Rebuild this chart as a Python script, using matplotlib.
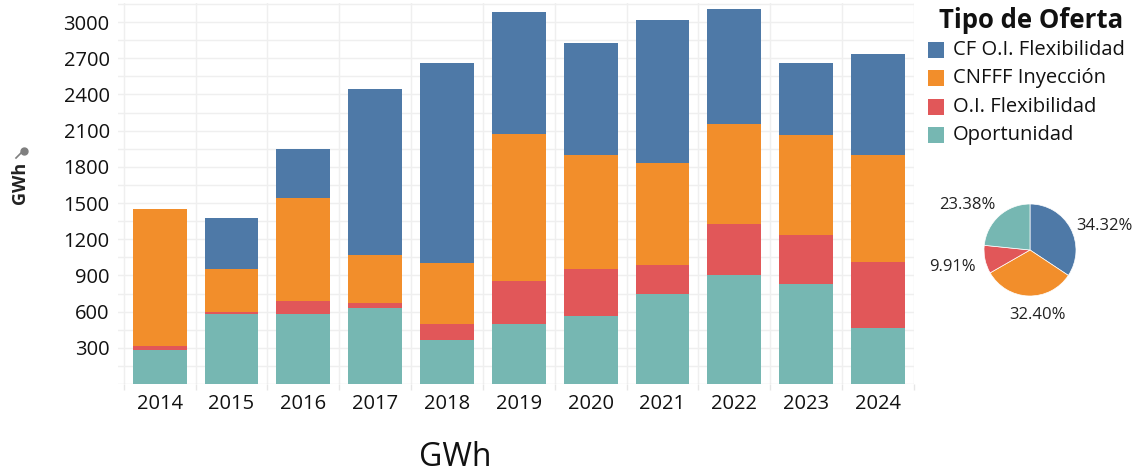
import matplotlib
matplotlib.use("Agg")
import matplotlib.pyplot as plt
from matplotlib.patches import Rectangle
import numpy as np

plt.rcParams['font.family'] = ['Open Sans', 'DejaVu Sans']

years = ["2014", "2015", "2016", "2017", "2018", "2019", "2020", "2021", "2022", "2023", "2024"]

# GWh per offer type, stacked bottom to top
oportunidad = [278, 582, 582, 626, 364, 497, 560, 750, 903, 825, 466]
oi_flexibilidad = [39, 17, 102, 47, 130, 359, 397, 238, 425, 409, 547]
cnfff_inyeccion = [1132, 358, 859, 398, 511, 1217, 945, 847, 828, 828, 889]
cf_oi_flexibilidad = [0, 415, 406, 1377, 1654, 1008, 925, 1180, 952, 597, 831]

legend_labels = ["CF O.I. Flexibilidad", "CNFFF Inyección", "O.I. Flexibilidad", "Oportunidad"]
pie_shares = [34.32, 32.40, 9.91, 23.38]

colors = {
    "CF O.I. Flexibilidad": "#4e79a7",
    "CNFFF Inyección": "#f28e2b",
    "O.I. Flexibilidad": "#e15759",
    "Oportunidad": "#76b7b2",
}

W, H = 1135, 476
fig = plt.figure(figsize=(W / 100, H / 100), dpi=100)
fig.patch.set_facecolor("white")

def fx(px):
    return px / W

def fy(py):
    return 1 - py / H

ax = fig.add_axes([fx(118), fy(384), fx(914) - fx(118), fy(3) - fy(384)])
x = np.arange(len(years))

stack = [
    ("Oportunidad", oportunidad),
    ("O.I. Flexibilidad", oi_flexibilidad),
    ("CNFFF Inyección", cnfff_inyeccion),
    ("CF O.I. Flexibilidad", cf_oi_flexibilidad),
]
bottom = np.zeros(len(years))
for name, vals in stack:
    vals = np.array(vals, dtype=float)
    ax.bar(x, vals, bottom=bottom, width=0.75, color=colors[name],
           edgecolor="none", zorder=3)
    bottom += vals

ax.set_xlim(-0.58, 10.5)
ax.set_ylim(0, 3158)

# horizontal grid every 150, labels every 300
ax.set_yticks(np.arange(300, 3001, 300))
ax.set_yticks(np.arange(150, 3151, 150), minor=True)
ax.set_xticks(x)
ax.set_xticklabels(years)
ax.set_xticks(np.arange(-0.5, 10.6, 1.0), minor=True)

ax.grid(which="minor", axis="both", color="#efefef", linewidth=1.0, zorder=0)
ax.grid(which="major", axis="y", color="#efefef", linewidth=1.0, zorder=0)
ax.axhline(0, color="#e6e6e6", linewidth=1.0, zorder=2)

ax.tick_params(axis="y", which="both", length=0, labelsize=14.5, labelcolor="#111111", pad=6)
ax.tick_params(axis="x", which="major", length=0, labelsize=14.5, labelcolor="#111111", pad=7)
ax.tick_params(axis="x", which="minor", length=4, color="#e6e6e6", width=1)
for s in ax.spines.values():
    s.set_visible(False)

# axis titles
fig.text(fx(20), fy(183), "GWh", rotation=90, ha="center", va="center",
         fontsize=13, fontweight="bold", color="#222222")
# pin marker beside the axis title
fig.lines.append(plt.Line2D([fx(16), fx(22)], [fy(158), fy(152)], color="#7f7f7f",
                            linewidth=1.2, transform=fig.transFigure))
fig.lines.append(plt.Line2D([fx(23.5)], [fy(150.5)], marker="o", markersize=5,
                            color="#7f7f7f", transform=fig.transFigure))
fig.text(fx(455), fy(457), "GWh", ha="center", va="center", fontsize=23, color="#111111")

# legend
fig.text(fx(1031), fy(21), "Tipo de Oferta", ha="center", va="center",
         fontsize=18.5, fontweight="bold", color="#111111")
ys = [50, 78, 107, 135]
for lab, yy in zip(legend_labels, ys):
    fig.patches.append(Rectangle((fx(928), fy(yy + 8)), fx(16), 16 / H,
                                 transform=fig.transFigure, facecolor=colors[lab],
                                 edgecolor="none"))
    fig.text(fx(953), fy(yy), lab, ha="left", va="center", fontsize=14.5, color="#111111")

# share of total by offer type
pax = fig.add_axes([fx(984), fy(296), 92 / W, 92 / H])
pax.pie(pie_shares, colors=[colors[l] for l in legend_labels], startangle=90,
        counterclock=False, radius=1.0,
        wedgeprops=dict(edgecolor="white", linewidth=0.5))
pax.set_xlim(-1, 1)
pax.set_ylim(-1, 1)
pax.set_aspect("equal")
label_pos = [(1104, 226), (1037, 315), (952, 267), (967, 205)]
for share, (px, py) in zip(pie_shares, label_pos):
    fig.text(fx(px), fy(py), f"{share:.2f}%", ha="center", va="center",
             fontsize=12, color="#222222")

fig.savefig("out.png", dpi=100, facecolor="white")
